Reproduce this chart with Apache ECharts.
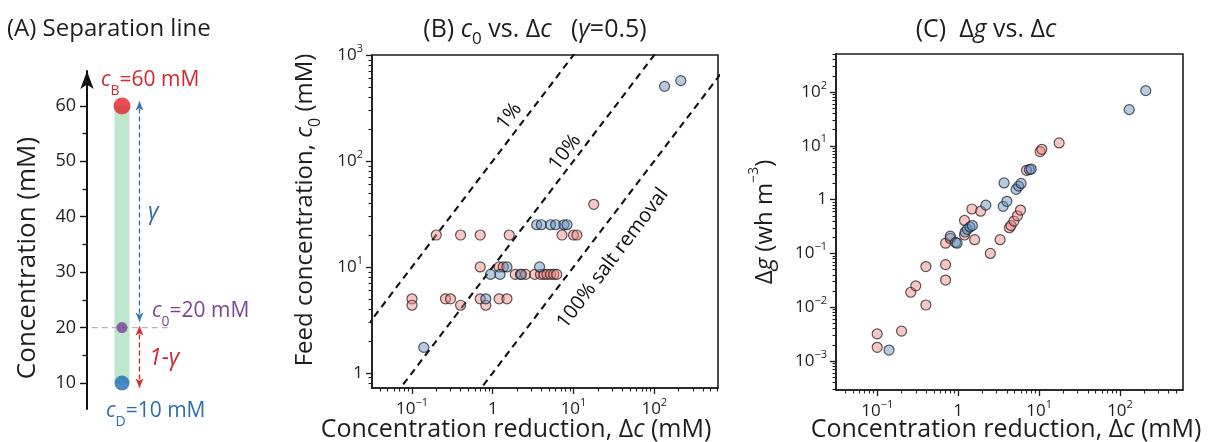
<!DOCTYPE html>
<html><head><meta charset="utf-8">
<script src="https://cdn.jsdelivr.net/npm/echarts@6/dist/echarts.min.js"></script>
<style>html,body{margin:0;padding:0;background:#fff}#c{width:1208px;height:442px}</style>
</head><body><div id="c"></div>
<script>
// ---------------- data ----------------
// Panel A: separation line
const concNamesA = ['B', '0', 'D'];
const concA = [60, 20, 10];            // c_B, c_0, c_D (mM)
const yTicksA = [10, 20, 30, 40, 50, 60];
const yMinorA = [15, 25, 35, 45, 55];

// Panel B: c0 vs dc  [dc (mM), c0 (mM)]
const pinkB = [
  [0.10, 5.0], [0.10, 4.35], [0.20, 20], [0.26, 5.0], [0.30, 5.0], [0.40, 20], [0.40, 4.35],
  [0.70, 20], [0.70, 10], [0.70, 5.0], [0.82, 4.35], [1.2, 10], [1.35, 10], [1.2, 5.0], [1.5, 5.0],
  [1.6, 20], [1.9, 8.5], [2.2, 8.5], [2.55, 8.5], [3.3, 8.5], [3.9, 8.5], [4.3, 8.5], [4.7, 8.5],
  [5.2, 8.5], [5.7, 8.5], [6.2, 8.5], [7.2, 20], [10, 20], [11, 20], [17.8, 39]
];
const blueB = [
  [0.14, 1.74], [0.82, 5.0], [0.94, 8.5], [1.23, 8.5], [1.5, 10], [2.26, 8.5], [3.8, 10],
  [3.5, 25], [4.0, 25], [5.2, 25], [6.0, 25], [7.6, 25], [8.3, 25], [134, 506], [213, 573]
];
const removalFractions = [0.01, 0.1, 1];
const removalLabels = ['1%', '10%', '100% salt removal'];

// Panel C: dg vs dc  [dc (mM), dg (wh m^-3)]
const pinkC = [
  [0.10, 0.0032], [0.10, 0.0018], [0.20, 0.0036], [0.26, 0.019], [0.30, 0.025], [0.40, 0.057],
  [0.40, 0.011], [0.70, 0.062], [0.70, 0.032], [0.70, 0.155], [0.80, 0.19], [1.2, 0.41], [1.2, 0.22],
  [1.6, 0.18], [1.48, 0.67], [1.9, 0.61], [2.5, 0.10], [3.3, 0.18], [4.3, 0.30], [4.5, 0.33],
  [4.9, 0.40], [5.4, 0.50], [5.9, 0.64], [7.0, 3.5], [10.3, 7.8], [10.8, 8.6], [17.7, 11.3]
];
const blueC = [
  [0.14, 0.0016], [0.80, 0.21], [0.93, 0.16], [0.97, 0.155], [1.22, 0.25], [1.3, 0.28], [1.4, 0.31],
  [1.5, 0.33], [2.2, 0.79], [3.6, 0.75], [4.0, 0.93], [3.7, 2.04], [5.2, 1.55], [5.6, 1.78],
  [6.0, 2.0], [7.6, 3.6], [8.0, 3.7], [130, 47], [208, 106]
];

const xTicksLog = [0.1, 1, 10, 100];
const yTicksB = [1, 10, 100, 1000];
const yTicksC = [0.001, 0.01, 0.1, 1, 10, 100];

// ---------------- layout / style ----------------
const FF = '"Open Sans", "Noto Sans", sans-serif';
const INK = '#1e1e1e';
const gridA = { left: 87, top: 71, width: 175, height: 338 };
const gridB = { left: 372, top: 55, width: 346, height: 333 };
const gridC = { left: 836, top: 54, width: 347, height: 336 };
const rangeA = { x: [0, 10], y: [5.3, 66.3] };
const rangeB = { x: [0.032, 615], y: [0.72, 1000] };
const rangeC = { x: [0.031, 600], y: [2.9e-4, 508] };
const colA = ['#e3232b', '#7b3c97', '#1f6cb3'];
const sizeA = [17, 11, 15];
const barX = 2, arrowX = 3, refLineX = [-0.3, 4.75];
const lineLabelAnchor = [2.2, 10.3, 17];
const lineLabelOffset = [14, 12, -26];

function minorTicks(lo, hi) {
  const out = [];
  for (let e = Math.floor(Math.log10(lo)); e <= Math.ceil(Math.log10(hi)); e++) {
    for (let m = 2; m <= 9; m++) {
      const v = +(m * Math.pow(10, e)).toPrecision(3);
      if (v > lo && v < hi) out.push(v);
    }
  }
  return out;
}
const logRich = {
  b: { fontSize: 17, lineHeight: 24, fontFamily: FF, color: INK },
  s: { fontSize: 11, lineHeight: 10, verticalAlign: 'top', fontFamily: FF, color: INK }
};
function logLabel(v) {
  const e = Math.round(Math.log10(v));
  if (e === 0) return '{b|1}';
  return '{b|10}{s|' + (e < 0 ? '\u2212' : '') + Math.abs(e) + '}';
}
const axLine = { show: true, onZero: false, lineStyle: { color: INK, width: 1.6 } };

function logAxisPair(gridIndex, dim, range, major) {
  const pos = dim === 'x' ? 'bottom' : 'left';
  const base = { gridIndex, type: 'log', logBase: 10, min: range[0], max: range[1], position: pos,
    splitLine: { show: false }, minorTick: { show: false }, minorSplitLine: { show: false } };
  return [
    Object.assign({}, base, {
      axisLine: axLine,
      axisTick: { show: true, customValues: major, length: 6, inside: false, lineStyle: { color: INK, width: 1.3 } },
      axisLabel: { show: true, customValues: major, formatter: logLabel, rich: logRich, margin: 9 },
      z: 5
    }),
    Object.assign({}, base, {
      axisLine: { show: false, onZero: false },
      axisTick: { show: true, customValues: minorTicks(range[0], range[1]), length: 3.5, inside: false, lineStyle: { color: INK, width: 1.1 } },
      axisLabel: { show: false },
      z: 5
    })
  ];
}

const xB = logAxisPair(1, 'x', rangeB.x, xTicksLog);
const yB = logAxisPair(1, 'y', rangeB.y, yTicksB);
const xC = logAxisPair(2, 'x', rangeC.x, xTicksLog);
const yC = logAxisPair(2, 'y', rangeC.y, yTicksC);

const pinkStyle = { color: 'rgba(240,128,124,0.55)', borderColor: 'rgba(35,25,25,0.9)', borderWidth: 1.2 };
const blueStyle = { color: 'rgba(96,142,192,0.58)', borderColor: 'rgba(25,30,40,0.9)', borderWidth: 1.2 };

function scatter(data, xi, yi, style) {
  return { type: 'scatter', xAxisIndex: xi, yAxisIndex: yi, data, symbol: 'circle', symbolSize: 10,
    itemStyle: style, silent: true, z: 3 };
}

const series = [];
// Panel A
series.push({ type: 'line', xAxisIndex: 0, yAxisIndex: 0, data: [[barX, concA[0]], [barX, concA[2]]],
  symbol: 'none', silent: true, z: 1, lineStyle: { color: '#bfe5cd', width: 15, cap: 'butt' } });
series.push({ type: 'line', xAxisIndex: 0, yAxisIndex: 0, clip: false,
  data: [[refLineX[0], concA[1]], [refLineX[1], concA[1]]], symbol: 'none', silent: true, z: 2,
  lineStyle: { color: '#b4b4b4', width: 1.3, type: [6, 4] },
  markLine: { silent: true, symbol: ['arrow', 'arrow'], symbolSize: [6, 9], label: { show: false },
    lineStyle: { type: [5, 3], width: 1.4 },
    data: [
      [{ coord: [arrowX, concA[1] + 1.1], lineStyle: { color: '#3777b6' }, itemStyle: { color: '#3777b6' } }, { coord: [arrowX, concA[0] + 0.8] }],
      [{ coord: [arrowX, concA[1] + 0.2], lineStyle: { color: '#d8262d' }, itemStyle: { color: '#d8262d' } }, { coord: [arrowX, concA[2] - 0.8] }]
    ] } });
series.push({ type: 'scatter', xAxisIndex: 0, yAxisIndex: 0, silent: true, z: 4,
  data: concA.map((v, i) => ({ value: [barX, v], symbolSize: sizeA[i], itemStyle: { color: colA[i] } })) });

// Panel B
removalFractions.forEach(f => {
  series.push({ type: 'line', xAxisIndex: 1, yAxisIndex: 2, silent: true, symbol: 'none', z: 2,
    data: [[0.001, 0.001 / f], [10000, 10000 / f]],
    lineStyle: { color: '#111', width: 2.1, type: [7, 5] } });
});
series.push({ type: 'custom', xAxisIndex: 1, yAxisIndex: 2, silent: true, z: 6,
  data: removalFractions.map((f, i) => [lineLabelAnchor[i], lineLabelAnchor[i] / f]),
  renderItem: function (params, api) {
    const i = params.dataIndex;
    const x = api.value(0), y = api.value(1);
    const p = api.coord([x, y]);
    const q = api.coord([x * 10, y * 10]);
    const a = Math.atan2(p[1] - q[1], q[0] - p[0]);
    const off = lineLabelOffset[i];
    return { type: 'text', x: p[0] - Math.sin(a) * off, y: p[1] - Math.cos(a) * off, rotation: a,
      style: { text: removalLabels[i], fill: '#111', font: '20px ' + FF, align: 'center', verticalAlign: 'middle' } };
  } });
series.push(scatter(pinkB, 1, 2, pinkStyle));
series.push(scatter(blueB, 1, 2, blueStyle));
// Panel C
series.push(scatter(pinkC, 3, 4, pinkStyle));
series.push(scatter(blueC, 3, 4, blueStyle));

// rich text helpers for titles
function richSet(size, color) {
  return {
    n: { fontSize: size, fontFamily: FF, color: color, lineHeight: 36 },
    i: { fontSize: size, fontFamily: FF, color: color, fontStyle: 'italic', lineHeight: 36 },
    sub: { fontSize: Math.round(size * 0.66), fontFamily: FF, color: color, lineHeight: 12, verticalAlign: 'bottom' },
    sup: { fontSize: Math.round(size * 0.6), fontFamily: FF, color: color, lineHeight: 12, verticalAlign: 'top' }
  };
}
function T(x, y, text, size, color, opts) {
  return Object.assign({ type: 'text', x, y, silent: true,
    style: { text, rich: richSet(size, color), fontSize: size, fontFamily: FF, fill: color,
      align: 'center', verticalAlign: 'middle' } }, opts || {});
}
function TL(x, y, text, size, color) {
  const t = T(x, y, text, size, color);
  t.style.align = 'left';
  return t;
}

const graphics = [
  TL(7, 29, '{n|(A) Separation line}', 24, INK),
  T(535, 30, '{n|(B) }{i|c}{sub|0}{n| vs. \u0394}{i|c}{n|   (}{i|\u03b3}{n|=0.5)}', 25, INK),
  T(986, 30, '{n|(C)  \u0394}{i|g}{n| vs. \u0394}{i|c}', 25, INK),
  T(28, 258, '{n|Concentration (mM)}', 26, INK, { rotation: Math.PI / 2 }),
  T(305, 210, '{n|Feed concentration, }{i|c}{sub|0}{n| (mM)}', 24, INK, { rotation: Math.PI / 2 }),
  T(765, 222, '{n|\u0394}{i|g}{n| (wh m}{sup|\u22123}{n|)}', 24, INK, { rotation: Math.PI / 2 }),
  T(516, 430, '{n|Concentration reduction, \u0394}{i|c}{n| (mM)}', 25, INK),
  T(1006, 430, '{n|Concentration reduction, \u0394}{i|c}{n| (mM)}', 25, INK),
  TL(101, 80, '{i|c}{sub|' + concNamesA[0] + '}{n|=' + concA[0] + ' mM}', 21, '#d6262d'),
  TL(148, 212, '{i|\u03b3}', 23, '#2f6eb0'),
  TL(152, 311, '{i|c}{sub|' + concNamesA[1] + '}{n|=' + concA[1] + ' mM}', 21, '#7e4593'),
  TL(149, 358, '{i|1-\u03b3}', 23, '#d6262d'),
  TL(106, 411, '{i|c}{sub|' + concNamesA[2] + '}{n|=' + concA[2] + ' mM}', 21, '#2a6db0')
];

const option = {
  backgroundColor: '#fff',
  animation: false,
  grid: [
    Object.assign({ show: false, containLabel: false, outerBoundsMode: 'none' }, gridA),
    Object.assign({ show: true, borderColor: INK, borderWidth: 1.6, backgroundColor: 'transparent', containLabel: false, outerBoundsMode: 'none' }, gridB),
    Object.assign({ show: true, borderColor: INK, borderWidth: 1.6, backgroundColor: 'transparent', containLabel: false, outerBoundsMode: 'none' }, gridC)
  ],
  xAxis: [
    { gridIndex: 0, type: 'value', min: rangeA.x[0], max: rangeA.x[1], show: false },
    xB[0], xB[1], xC[0], xC[1]
  ],
  yAxis: [
    { gridIndex: 0, type: 'value', min: rangeA.y[0], max: rangeA.y[1], position: 'left', z: 5,
      splitLine: { show: false },
      axisLine: { show: true, onZero: false, symbol: ['none', 'arrow'], symbolSize: [10, 18], lineStyle: { color: '#111', width: 2 } },
      axisTick: { show: true, customValues: yTicksA, length: 7, lineStyle: { color: '#111', width: 1.4 } },
      axisLabel: { show: true, customValues: yTicksA, margin: 11, fontSize: 18, fontFamily: FF, color: INK } },
    { gridIndex: 0, type: 'value', min: rangeA.y[0], max: rangeA.y[1], position: 'left', z: 5,
      splitLine: { show: false }, axisLine: { show: false, onZero: false },
      axisTick: { show: true, customValues: yMinorA, length: 4.5, lineStyle: { color: '#111', width: 1.3 } },
      axisLabel: { show: false } },
    yB[0], yB[1], yC[0], yC[1]
  ],
  series,
  graphic: graphics
};
const chart = echarts.init(document.getElementById('c'));
chart.setOption(option);
</script>
</body></html>
